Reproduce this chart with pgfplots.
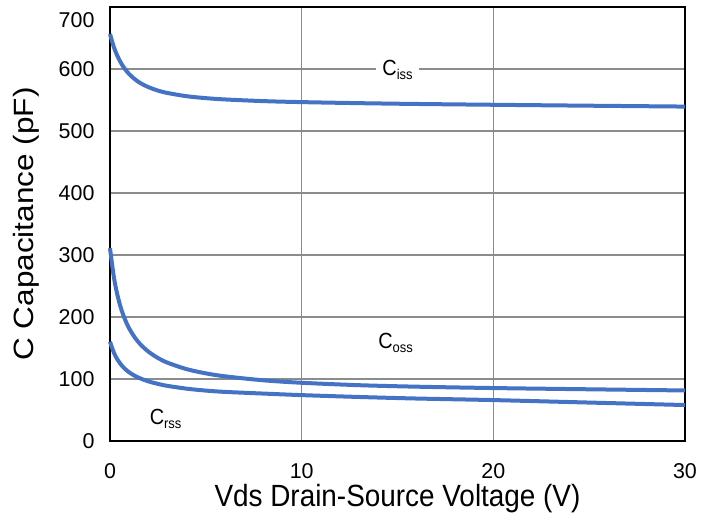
\documentclass[border=0pt]{standalone}
\usepackage{pgfplots}
\pgfplotsset{compat=1.18}
\usepackage{fontspec}
\setmainfont{Liberation Sans}
\definecolor{cblue}{HTML}{4472C4}
\definecolor{gridgray}{HTML}{8C8C8C}
\begin{document}
\begin{tikzpicture}
\begin{axis}[
  at={(0,0)}, anchor=south west,
  scale only axis, width=575bp, height=434bp,
  xmin=0, xmax=30, ymin=0, ymax=700,
  xtick={0,10,20,30}, ytick={0,100,...,700},
  yticklabels={0,100,200,300,400,500,600,\raisebox{-20.5bp}[0pt][0pt]{700}},
  grid=major,
  major grid style={draw=gridgray, line width=1.1bp},
  axis line style={draw=black, line width=1.3bp},
  major tick length=0pt,
  /pgf/number format/assume math mode=true,
  tick label style={font=\fontsize{21.5}{24}\selectfont},
  xticklabel style={yshift=-19bp},
  yticklabel style={xshift=-12bp},
  xlabel={\scalebox{1}[1.1]{Vds Drain-Source Voltage (V)}},
  ylabel={\scalebox{1.13}[1]{C Capacitance (pF)}},
  label style={font=\fontsize{28}{30}\selectfont},
  xlabel style={at={(axis description cs:0.5,0)}, anchor=center, yshift=-58bp},
  ylabel style={at={(axis description cs:0,0.5)}, anchor=center, yshift=84bp},
  clip=false,
]
\addplot[cblue, line width=4bp, smooth] coordinates {
(0,656.5) (0.2,635.5) (0.4,620.1) (0.6,608.3) (0.8,599.1) (1.0,591.8) (1.3,583.4) (1.6,577.0) (2.0,570.8) (2.5,565.2) (3,561.3) (4,556.1) (5,553.0) (6,550.9) (8,548.2) (10,546.6) (13,544.9) (16,543.6) (20,542.3) (25,540.8) (30,539.4)};
\addplot[cblue, line width=4bp, smooth] coordinates {
(0,311) (0.2,264.7) (0.4,233.7) (0.6,211.4) (0.8,194.7) (1.0,181.6) (1.3,166.7) (1.6,155.4) (2.0,144.2) (2.5,133.9) (3,126.3) (4,115.9) (5,109.1) (6,104.3) (8,97.9) (10,93.9) (13,90.0) (16,87.6) (20,85.4) (25,83.4) (30,81.5)};
\addplot[cblue, line width=4bp, smooth] coordinates {
(0,160) (0.2,142.6) (0.4,130.8) (0.6,122.3) (0.8,115.8) (1.0,110.8) (1.3,105.0) (1.6,100.7) (2.0,96.2) (2.5,92.1) (3,88.9) (4,84.4) (5,81.3) (6,79.2) (8,76.5) (10,74.0) (13,71.0) (16,68.5) (20,66.0) (25,62.0) (30,58.0)};
\node[fill=white, inner xsep=6bp, inner ysep=2bp, font=\fontsize{20}{22}\selectfont] at (axis cs:15.0,598) {\scalebox{1}[1.1]{C\raisebox{-0.35ex}{\fontsize{13}{14}\selectfont iss}}};
\node[font=\fontsize{20}{22}\selectfont] at (axis cs:14.9,158) {\scalebox{1}[1.1]{C\raisebox{-0.35ex}{\fontsize{13}{14}\selectfont oss}}};
\node[font=\fontsize{20}{22}\selectfont] at (axis cs:2.9,35) {\scalebox{1}[1.1]{C\raisebox{-0.35ex}{\fontsize{13}{14}\selectfont rss}}};
\end{axis}
\pgfresetboundingbox
\path[use as bounding box] (-110bp,-72bp) rectangle (605bp,441bp);
\end{tikzpicture}
\end{document}
